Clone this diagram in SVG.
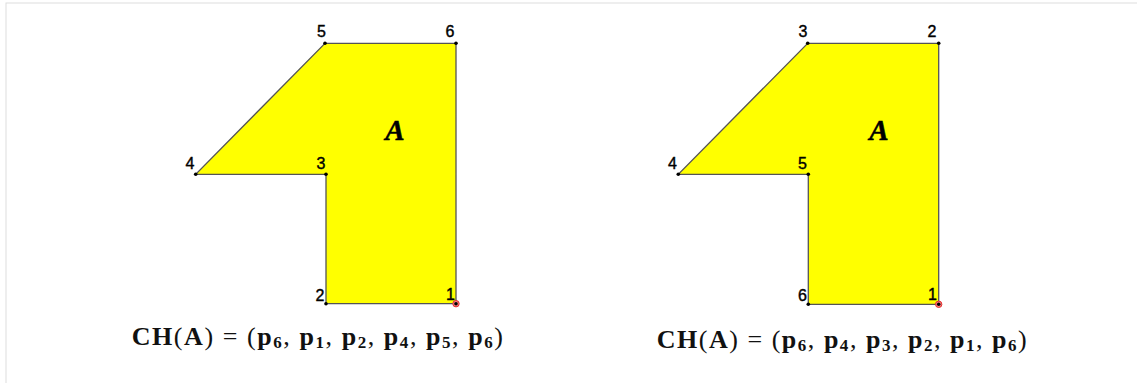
<svg xmlns="http://www.w3.org/2000/svg" width="1137" height="383" viewBox="0 0 1137 383">
<style>
.poly{fill:#ffff00;stroke:#555;stroke-width:1.3;stroke-linejoin:miter}
.num{font-family:"Liberation Sans",Arial,sans-serif;font-size:16px;fill:#000;stroke:#000;stroke-width:0.4;text-anchor:middle}
.lab{font-family:"Liberation Serif","Times New Roman",serif;font-size:29px;font-weight:bold;font-style:italic;fill:#000;stroke:#000;stroke-width:0.5;text-anchor:middle}
.f{font-family:"Liberation Serif","Times New Roman",serif;font-size:26px;fill:#111}
.b{font-weight:bold}
.s{font-size:17px;font-weight:bold}
.pt{fill:#000}
.red{fill:#ff8080;stroke:#e03030;stroke-width:1}
</style>
<rect x="0" y="0" width="1137" height="383" fill="#fff"/>
<rect x="6" y="3" width="1140" height="390" fill="none" stroke="#ddd" stroke-width="1"/>
<g id="shape-left">
<polygon class="poly" points="456,303.7 326,303.7 326,174.3 195.7,174.3 325,43.3 456,43.3"/>
<circle class="red" cx="456" cy="303.7" r="3.2"/>
<circle class="pt" cx="456" cy="303.7" r="1.8"/>
<circle class="pt" cx="326" cy="303.7" r="1.8"/>
<circle class="pt" cx="326" cy="174.3" r="1.8"/>
<circle class="pt" cx="195.7" cy="174.3" r="1.8"/>
<circle class="pt" cx="325" cy="43.3" r="1.8"/>
<circle class="pt" cx="456" cy="43.3" r="1.8"/>
<text class="num" x="450.5" y="300">1</text>
<text class="num" x="320" y="300.5">2</text>
<text class="num" x="321" y="169">3</text>
<text class="num" x="190" y="169">4</text>
<text class="num" x="321.5" y="37">5</text>
<text class="num" x="450" y="37">6</text>
<text class="lab" x="395" y="140">A</text>
</g>
<g id="shape-right">
<polygon class="poly" points="938.7,304.3 808.3,304.3 808.3,174.3 678.3,174.3 807.7,43.3 938.7,43.3"/>
<circle class="red" cx="938.7" cy="304.3" r="3.2"/>
<circle class="pt" cx="938.7" cy="304.3" r="1.8"/>
<circle class="pt" cx="808.3" cy="304.3" r="1.8"/>
<circle class="pt" cx="808.3" cy="174.3" r="1.8"/>
<circle class="pt" cx="678.3" cy="174.3" r="1.8"/>
<circle class="pt" cx="807.7" cy="43.3" r="1.8"/>
<circle class="pt" cx="938.7" cy="43.3" r="1.8"/>
<text class="num" x="932.5" y="300">1</text>
<text class="num" x="932" y="37">2</text>
<text class="num" x="803" y="37">3</text>
<text class="num" x="672.5" y="169">4</text>
<text class="num" x="802.5" y="169">5</text>
<text class="num" x="802.5" y="300.5">6</text>
<text class="lab" x="879" y="140">A</text>
</g>
<g id="formula-left">
<text class="f" x="131.7" y="345" textLength="371.3" lengthAdjust="spacing"><tspan class="b">CH</tspan>(<tspan class="b">A</tspan>) = (<tspan class="b">p</tspan><tspan class="s" dy="3">6</tspan><tspan dy="-3">, </tspan><tspan class="b">p</tspan><tspan class="s" dy="3">1</tspan><tspan dy="-3">, </tspan><tspan class="b">p</tspan><tspan class="s" dy="3">2</tspan><tspan dy="-3">, </tspan><tspan class="b">p</tspan><tspan class="s" dy="3">4</tspan><tspan dy="-3">, </tspan><tspan class="b">p</tspan><tspan class="s" dy="3">5</tspan><tspan dy="-3">, </tspan><tspan class="b">p</tspan><tspan class="s" dy="3">6</tspan><tspan dy="-3">)</tspan></text>
</g>
<g id="formula-right">
<text class="f" x="656.7" y="348" textLength="370" lengthAdjust="spacing"><tspan class="b">CH</tspan>(<tspan class="b">A</tspan>) = (<tspan class="b">p</tspan><tspan class="s" dy="3">6</tspan><tspan dy="-3">, </tspan><tspan class="b">p</tspan><tspan class="s" dy="3">4</tspan><tspan dy="-3">, </tspan><tspan class="b">p</tspan><tspan class="s" dy="3">3</tspan><tspan dy="-3">, </tspan><tspan class="b">p</tspan><tspan class="s" dy="3">2</tspan><tspan dy="-3">, </tspan><tspan class="b">p</tspan><tspan class="s" dy="3">1</tspan><tspan dy="-3">, </tspan><tspan class="b">p</tspan><tspan class="s" dy="3">6</tspan><tspan dy="-3">)</tspan></text>
</g>
</svg>
